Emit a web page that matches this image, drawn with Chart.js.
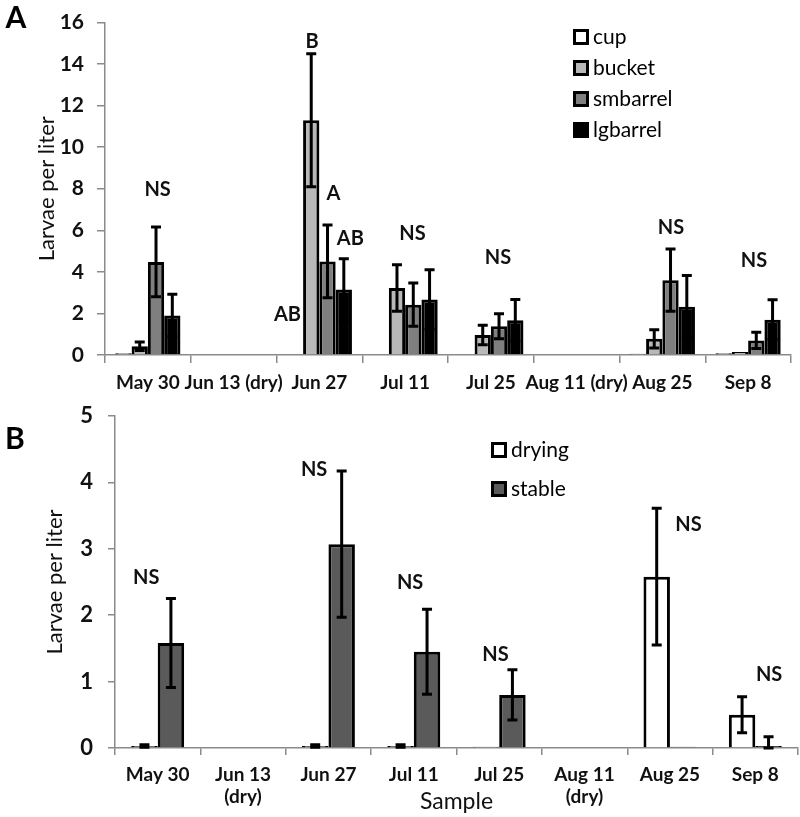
<!DOCTYPE html>
<html>
<head>
<meta charset="utf-8">
<script src="https://cdn.jsdelivr.net/npm/chart.js@4.4.1/dist/chart.umd.min.js"></script>
<style>
  html, body { margin: 0; padding: 0; background: #fff; }
  #wrapA { position: absolute; left: 0; top: 0; width: 800px; height: 400px; }
  #wrapB { position: absolute; left: 0; top: 390px; width: 800px; height: 427px; }
</style>
</head>
<body>
<div id="wrapA"><canvas id="chartA" width="800" height="400"></canvas></div>
<div id="wrapB"><canvas id="chartB" width="800" height="427"></canvas></div>
<script>
// ---- data, panel A (container type) ----
let labelsA = ["May 30", "Jun 13 (dry)", "Jun 27", "Jul 11", "Jul 25", "Aug 11 (dry)", "Aug 25", "Sep 8"];
let cup      = [0.08, null, 0,    0,    0,    null, 0.06, 0.08];
let bucket   = [0.42, null, 11.3, 3.22, 0.96, null, 0.78, 0.15];
let smbarrel = [4.48, null, 4.5,  2.42, 1.38, null, 3.6,  0.7];
let lgbarrel = [1.9,  null, 3.15, 2.67, 1.67, null, 2.32, 1.7];
let cupErr      = [null, null, null, null, null, null, null, null];
let bucketErr   = [0.2,  null, 3.2,  1.12, 0.47, null, 0.44, null];
let smbarrelErr = [1.68, null, 1.75, 1.04, 0.6,  null, 1.5,  0.39];
let lgbarrelErr = [1.02, null, 1.48, 1.43, 1.0,  null, 1.5,  0.96];
let notesA = [
    { cat: 0, slot: 0.6,   value: 7.95,  text: "NS" },
    { cat: 2, slot: -0.45, value: 15.07, text: "B" },
    { cat: 2, slot: 0.86,  value: 7.75,  text: "A" },
    { cat: 2, slot: 1.9,   value: 5.6,   text: "AB" },
    { cat: 2, slot: -1.96, value: 1.93,  text: "AB" },
    { cat: 3, slot: 0.45,  value: 5.84,  text: "NS" },
    { cat: 4, slot: 0.44,  value: 4.69,  text: "NS" },
    { cat: 6, slot: 0.53,  value: 6.12,  text: "NS" },
    { cat: 7, slot: 0.36,  value: 4.54,  text: "NS" }
];

// ---- data, panel B (drying vs stable) ----
let labelsB = ["May 30", ["Jun 13", "(dry)"], "Jun 27", "Jul 11", "Jul 25", ["Aug 11", "(dry)"], "Aug 25", "Sep 8"];
let drying    = [0.03, null, 0.03, 0.03, 0.02, null, 2.58, 0.5];
let stable    = [1.58, null, 3.07, 1.45, 0.8,  null, 0.02, 0.03];
let dryingErr = [0.02, null, 0.02, 0.02, null, null, 1.03, 0.27];
let stableErr = [0.67, null, 1.1,  0.64, 0.38, null, null, 0.14];
let notesB = [
    { cat: 0, slot: -0.43, value: 2.57, text: "NS" },
    { cat: 2, slot: -0.54, value: 4.19, text: "NS" },
    { cat: 3, slot: -0.14, value: 2.49, text: "NS" },
    { cat: 4, slot: -0.14, value: 1.41, text: "NS" },
    { cat: 6, slot: 0.7,   value: 3.37, text: "NS" },
    { cat: 7, slot: 0.52,  value: 1.11, text: "NS" }
];

Chart.defaults.font.family = "Lato, 'Open Sans', sans-serif";
Chart.defaults.color = "#111";

// error bars drawn at each bar centre
const errorBars = {
    id: "errorBars",
    afterDatasetsDraw(chart) {
        let ctx = chart.ctx;
        let ys = chart.scales.y;
        chart.data.datasets.forEach((ds, i) => {
            if (!ds.errors) return;
            let meta = chart.getDatasetMeta(i);
            ds.errors.forEach((e, j) => {
                if (e == null || ds.data[j] == null) return;
                let x = meta.data[j].x;
                let yTop = ys.getPixelForValue(ds.data[j] + e);
                let yLow = ys.getPixelForValue(Math.max(ds.data[j] - e, 0));
                ctx.save();
                ctx.strokeStyle = "#000";
                ctx.lineWidth = 3;
                ctx.beginPath();
                ctx.moveTo(x, yTop); ctx.lineTo(x, yLow);
                ctx.moveTo(x - 5, yTop); ctx.lineTo(x + 5, yTop);
                ctx.moveTo(x - 5, yLow); ctx.lineTo(x + 5, yLow);
                ctx.stroke();
                ctx.restore();
            });
        });
    }
};

// significance letters, legend boxes and panel letter
const extras = {
    id: "extras",
    afterDraw(chart, args, opts) {
        let ctx = chart.ctx;
        let xs = chart.scales.x, ys = chart.scales.y;
        let n = chart.data.datasets.length;
        let catW = xs.getPixelForValue(1) - xs.getPixelForValue(0);
        let barW = catW * opts.catPct / n;
        ctx.save();
        ctx.fillStyle = "#111";
        ctx.textAlign = "center";
        ctx.textBaseline = "middle";
        ctx.font = "bold 20px Lato, 'Open Sans', sans-serif";
        opts.notes.forEach(a => {
            let x = xs.getPixelForValue(a.cat) + a.slot * barW;
            ctx.fillText(a.text, x, ys.getPixelForValue(a.value));
        });
        // legend
        let L = opts.legend;
        ctx.textAlign = "left";
        ctx.font = "21px Lato, 'Open Sans', sans-serif";
        chart.data.datasets.forEach((ds, i) => {
            let cy = L.y + i * L.step;
            ctx.fillStyle = "#000";
            ctx.fillRect(L.x, cy - L.size / 2, L.size, L.size);
            ctx.fillStyle = ds.backgroundColor;
            ctx.fillRect(L.x + 3, cy - L.size / 2 + 3, L.size - 6, L.size - 6);
            ctx.fillStyle = "#000";
            ctx.fillText(ds.label, L.x + L.size + 4, cy);
        });
        // panel letter
        ctx.font = "bold 30px Lato, 'Open Sans', sans-serif";
        ctx.textAlign = "center";
        ctx.fillStyle = "#000";
        ctx.fillText(opts.panel.text, opts.panel.x, opts.panel.y);
        ctx.restore();
    }
};

function axisX(h, tl, pad) {
    return {
        grid: { offset: true, drawOnChartArea: false, tickLength: tl, color: "#8a8a8a", lineWidth: 1.5 },
        border: { color: "#8a8a8a", width: 1.5 },
        ticks: { autoSkip: false, maxRotation: 0, minRotation: 0, padding: pad,
                 font: { size: 19, weight: "bold" } },
        afterFit(s) { s.height = h; }
    };
}

// ---- panel A ----
let catA = 0.76;
new Chart(document.getElementById("chartA").getContext("2d"), {
    type: "bar",
    data: {
        labels: labelsA,
        datasets: [
            { label: "cup",      data: cup,      errors: cupErr,      backgroundColor: "#ffffff" },
            { label: "bucket",   data: bucket,   errors: bucketErr,   backgroundColor: "#b8b8b8" },
            { label: "smbarrel", data: smbarrel, errors: smbarrelErr, backgroundColor: "#7f7f7f" },
            { label: "lgbarrel", data: lgbarrel, errors: lgbarrelErr, backgroundColor: "#000000" }
        ]
    },
    options: {
        responsive: false,
        animation: false,
        layout: { padding: { left: 0, right: 9, top: 10, bottom: 0 } },
        datasets: { bar: { categoryPercentage: catA, barPercentage: 1, borderColor: "#000", borderWidth: 3 } },
        plugins: {
            legend: { display: false },
            tooltip: { enabled: false },
            extras: { catPct: catA, notes: notesA,
                      legend: { x: 573, y: 37, step: 31, size: 16 },
                      panel: { text: "A", x: 16, y: 18 } }
        },
        scales: {
            x: axisX(45, 8, 8),
            y: {
                min: 0, max: 16,
                ticks: { stepSize: 2, padding: 13, font: { size: 21, weight: "bold", lineHeight: 0.9 } },
                grid: { drawOnChartArea: false, tickLength: 8, color: "#8a8a8a", lineWidth: 1.5 },
                border: { color: "#8a8a8a", width: 1.5 },
                title: { display: true, text: "Larvae per liter", font: { size: 22 }, padding: { top: 34, bottom: 0 } },
                afterFit(s) { s.width = 105; }
            }
        }
    },
    plugins: [errorBars, extras]
});

// ---- panel B ----
let catB = 0.62;
let xB = axisX(69, 7, 8);
xB.title = { display: true, text: "Sample", font: { size: 23 }, padding: { top: 0, bottom: 2 } };
new Chart(document.getElementById("chartB").getContext("2d"), {
    type: "bar",
    data: {
        labels: labelsB,
        datasets: [
            { label: "drying", data: drying, errors: dryingErr, backgroundColor: "#ffffff" },
            { label: "stable", data: stable, errors: stableErr, backgroundColor: "#5a5a5a" }
        ]
    },
    options: {
        responsive: false,
        animation: false,
        layout: { padding: { left: 0, right: 2, top: 25, bottom: 0 } },
        datasets: { bar: { categoryPercentage: catB, barPercentage: 1, borderColor: "#000", borderWidth: 3 } },
        plugins: {
            legend: { display: false },
            tooltip: { enabled: false },
            extras: { catPct: catB, notes: notesB,
                      legend: { x: 491, y: 60, step: 39, size: 16 },
                      panel: { text: "B", x: 15, y: 49 } }
        },
        scales: {
            x: xB,
            y: {
                min: 0, max: 5,
                ticks: { stepSize: 1, padding: 15, font: { size: 22, weight: "bold", lineHeight: 1 } },
                grid: { drawOnChartArea: false, tickLength: 7, color: "#8a8a8a", lineWidth: 1.5 },
                border: { color: "#8a8a8a", width: 1.5 },
                title: { display: true, text: "Larvae per liter", font: { size: 22 }, padding: { top: 42, bottom: 0 } },
                afterFit(s) { s.width = 115; }
            }
        }
    },
    plugins: [errorBars, extras]
});
</script>
</body>
</html>
